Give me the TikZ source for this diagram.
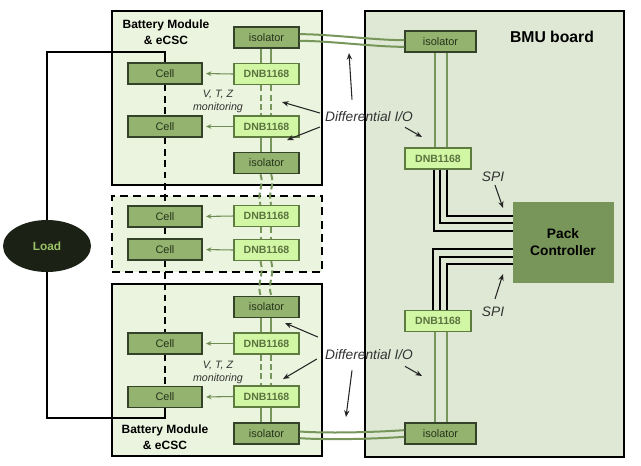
\documentclass[tikz,border=0pt]{standalone}
\usepackage{fontspec}
\setmainfont{Liberation Sans}
\usetikzlibrary{arrows.meta,shapes.geometric}
\definecolor{modfill}{HTML}{EBF4DE}
\definecolor{bmufill}{HTML}{DFE8D5}
\definecolor{midgreen}{HTML}{93B36E}
\definecolor{boxline}{HTML}{34422A}
\definecolor{celltext}{HTML}{26331C}
\definecolor{dnbfill}{HTML}{D2F7A4}
\definecolor{dnbline}{HTML}{5E7C40}
\definecolor{dnbtext}{HTML}{5A7340}
\definecolor{packfill}{HTML}{78955A}
\definecolor{loadfill}{HTML}{1B2215}
\definecolor{loadtext}{HTML}{9BC266}
\definecolor{linegreen}{HTML}{77975A}
\definecolor{arrowgreen}{HTML}{6E8D52}
\definecolor{notetext}{HTML}{333333}

\begin{document}
\begin{tikzpicture}[x=0.75pt, y=-0.75pt,
  modbox/.style={draw=black, line width=1.5pt, fill=modfill, inner sep=0pt},
  cell/.style={draw=boxline, line width=1.1pt, fill=midgreen, minimum width=55.5pt,
    minimum height=15.75pt, inner sep=0pt, text=celltext, font=\fontsize{8.2}{9}\selectfont},
  iso/.style={cell, minimum width=48.75pt},
  dnb/.style={cell, draw=dnbline, fill=dnbfill, minimum width=48.75pt, text=dnbtext,
    font=\bfseries\fontsize{7.9}{9}\selectfont},
  title/.style={font=\bfseries\fontsize{9}{12}\selectfont, align=center, inner sep=0pt},
  note/.style={font=\itshape\fontsize{10.3}{12}\selectfont, text=notetext, inner sep=0pt},
  small/.style={font=\itshape\fontsize{8}{9.75}\selectfont, text=notetext, align=center, inner sep=0pt},
  wire/.style={line width=1.5pt},
  celldash/.style={line width=1.8pt, dash pattern=on 5pt off 3.5pt},
  gline/.style={draw=linegreen, line width=1.5pt},
  gdash/.style={gline, dash pattern=on 4.5pt off 2.5pt},
  feed/.style={draw=arrowgreen, line width=0.8pt, -{Stealth[length=4pt,width=3.5pt]}, shorten >=2.5pt},
  pointer/.style={draw=black!85, line width=0.8pt, -{Stealth[length=5pt,width=4pt]}},
  spi/.style={line width=1.5pt}
]
  \useasboundingbox (0,0) rectangle (641,465);

  % boards
  \node[modbox, minimum width=157.5pt, minimum height=130.5pt] (m1) at (217,98) {};
  \node[modbox, dash pattern=on 6pt off 4pt, minimum width=157.5pt, minimum height=57pt] (m2) at (217,234) {};
  \node[modbox, minimum width=157.5pt, minimum height=129pt] (m3) at (217,370) {};
  \node[modbox, fill=bmufill, minimum width=194.25pt, minimum height=334.5pt] (bmu) at (494.5,234) {};

  \node[title] at (166,32) {Battery Module\\\& eCSC};
  \node[title] at (165,437) {Battery Module\\\& eCSC};
  \node[title, font=\bfseries\fontsize{11.8}{14}\selectfont] at (552,37) {BMU board};

  % cells
  \node[cell] (c1) at (165,73.5) {Cell};
  \node[cell] (c2) at (165,126.5) {Cell};
  \node[cell] (c3) at (165,216.5) {Cell};
  \node[cell] (c4) at (165,249.5) {Cell};
  \node[cell] (c5) at (165,343.5) {Cell};
  \node[cell] (c6) at (165,397) {Cell};

  % monitors and isolators
  \node[iso] (i1) at (266.5,37.5) {isolator};
  \node[dnb] (d1) at (266.5,74) {DNB1168};
  \node[dnb] (d2) at (266.5,126.5) {DNB1168};
  \node[iso] (i2) at (266.5,163) {isolator};
  \node[dnb] (d3) at (266.5,216) {DNB1168};
  \node[dnb] (d4) at (266.5,250) {DNB1168};
  \node[iso] (i3) at (266.5,307) {isolator};
  \node[dnb] (d5) at (266.5,343.5) {DNB1168};
  \node[dnb] (d6) at (266.5,396.5) {DNB1168};
  \node[iso] (i4) at (266.5,433.5) {isolator};

  \node[iso, minimum width=53.25pt] (bi1) at (440.5,41.5) {isolator};
  \node[dnb, minimum width=49.5pt] (bd1) at (438,158.5) {DNB1168};
  \node[dnb, minimum width=49.5pt] (bd2) at (438,321) {DNB1168};
  \node[iso, minimum width=53.25pt] (bi2) at (440.5,433.5) {isolator};

  \node[fill=packfill, draw=packfill, minimum width=75pt, minimum height=60pt, align=center,
    font=\bfseries\fontsize{10.3}{12.75}\selectfont] (pack) at (563,242) {Pack\\Controller};
  \node[ellipse, fill=loadfill, minimum width=66pt, minimum height=39pt, inner sep=0pt,
    text=loadtext, font=\bfseries\fontsize{8.9}{10}\selectfont] (load) at (47,246) {Load};

  % load and cell string
  \draw[wire] (load.north) |- ([yshift=7.5pt]c1.north) -- (c1.north);
  \draw[wire] (load.south) |- ([yshift=-7.5pt]c6.south) -- (c6.south);
  \draw[celldash] (c1) -- (c2);
  \draw[celldash] (c2) -- (c3);
  \draw[celldash] (c3) -- (c4);
  \draw[celldash] (c4) -- (c5);
  \draw[celldash] (c5) -- (c6);

  % monitor to cell
  \foreach \d/\c in {d1/c1, d2/c2, d3/c3, d4/c4, d5/c5, d6/c6}
    \draw[feed] (\d.west) -- (\c.east);

  % daisy chain
  \foreach \s in {-4.5pt, 3.5pt} {
    \draw[gline] ([xshift=\s]i1.south) -- ([xshift=\s]d1.north);
    \draw[gdash] ([xshift=\s]d1.south) -- ([xshift=\s]d2.north);
    \draw[gline] ([xshift=\s]d2.south) -- ([xshift=\s]i2.north);
    \draw[gdash] ([xshift=\s]i2.south) .. controls +(4,12) and +(-4,-12) .. ([xshift=\s]d3.north);
    \draw[gdash] ([xshift=\s]d3.south) -- ([xshift=\s]d4.north);
    \draw[gdash] ([xshift=\s]d4.south) .. controls +(4,14) and +(-4,-14) .. ([xshift=\s]i3.north);
    \draw[gline] ([xshift=\s]i3.south) -- ([xshift=\s]d5.north);
    \draw[gdash] ([xshift=\s]d5.south) -- ([xshift=\s]d6.north);
    \draw[gline] ([xshift=\s]d6.south) -- ([xshift=\s]i4.north);
  }
  \foreach \s in {-2.25pt, 6.75pt} {
    \draw[gline] ([xshift=\s]bd1.north) -- ([xshift=\s]bd1.north |- bi1.south);
    \draw[gline] ([xshift=\s]bd2.south) -- ([xshift=\s]bd2.south |- bi2.north);
  }
  \foreach \s in {2.5pt, -2.5pt} {
    \draw[gline] ([yshift=\s]i1.east) .. controls +(30,0) and +(-30,0) .. ([yshift=\s-1.5pt]bi1.west);
    \draw[gline] ([yshift=\s-1pt]i4.east) .. controls +(30,2) and +(-30,2) .. ([yshift=\s]bi2.west);
  }

  % SPI
  \draw[spi] ([xshift=-3pt]bd1.south) |- ([yshift=8.25pt]pack.west);
  \draw[spi] ([xshift=1.5pt]bd1.south) |- ([yshift=14.25pt]pack.west);
  \draw[spi] ([xshift=6.75pt]bd1.south) |- ([yshift=19.5pt]pack.west);
  \draw[spi] ([xshift=-3.75pt]bd2.north) |- ([yshift=-5.25pt]pack.west);
  \draw[spi] ([xshift=1.5pt]bd2.north) |- ([yshift=-11.25pt]pack.west);
  \draw[spi] ([xshift=6.75pt]bd2.north) |- ([yshift=-16.5pt]pack.west);

  % labels
  \node[small] (mon1) at (218,101.5) {V, T, Z\\monitoring};
  \node[small] (mon2) at (218,372) {V, T, Z\\monitoring};
  \node[note] (diffA) at (369,117) {Differential I/O};
  \node[note] (diffB) at (369,355) {Differential I/O};
  \node[note] (spiA) at (493,177) {SPI};
  \node[note] (spiB) at (493,312) {SPI};

  \coordinate (tA1) at (349,53);
  \coordinate (tA2) at (282,102);
  \coordinate (tA3) at (287,140);
  \coordinate (tA4) at (422,137);
  \coordinate (tB1) at (285,323);
  \coordinate (tB2) at (283,379);
  \coordinate (tB3) at (346,417);
  \coordinate (tB4) at (422,376);
  \coordinate (tS1) at (503,208);
  \coordinate (tS2) at (503,274);

  \draw[pointer] ([shift={(-17,-12)}]diffA.north) -- (tA1);
  \draw[pointer] ([shift={(-5,-4)}]diffA.west) -- (tA2);
  \draw[pointer] ([shift={(-5,10)}]diffA.west) -- (tA3);
  \draw[pointer] ([shift={(36,5)}]diffA.south) -- (tA4);
  \draw[pointer] ([shift={(-7,-18)}]diffB.west) -- (tB1);
  \draw[pointer] ([shift={(-8,4)}]diffB.west) -- (tB2);
  \draw[pointer] ([shift={(-17,10)}]diffB.south) -- (tB3);
  \draw[pointer] ([shift={(36,6)}]diffB.south) -- (tB4);
  \draw[pointer] ([shift={(2,3)}]spiA.south) -- (tS1);
  \draw[pointer] ([shift={(2,-8)}]spiB.north) -- (tS2);
\end{tikzpicture}
\end{document}
